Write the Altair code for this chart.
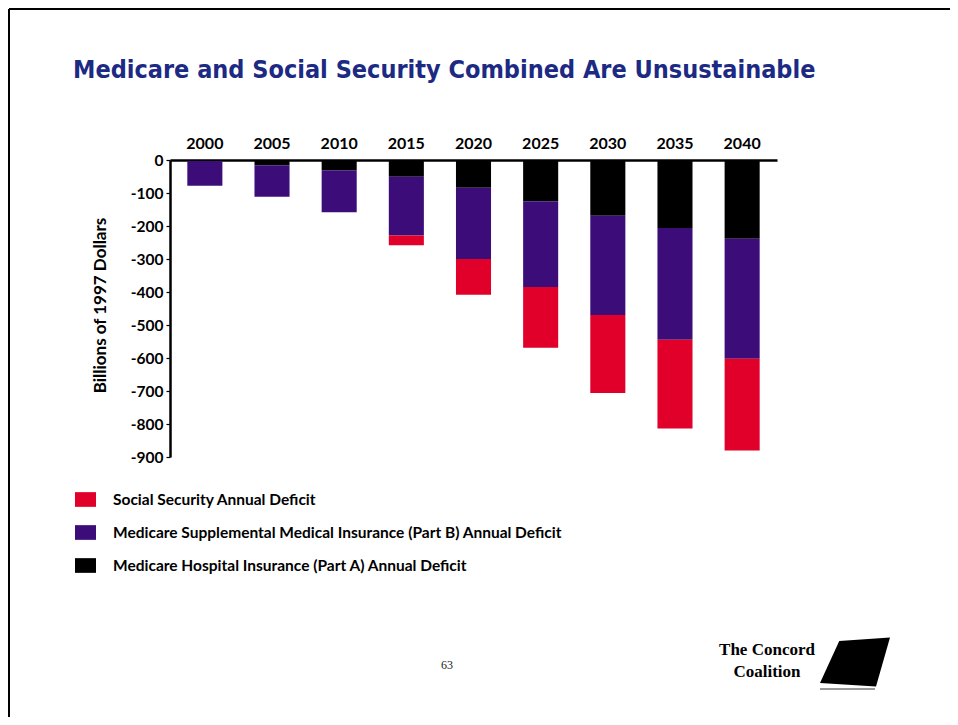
import altair as alt
import pandas as pd

# ---- data (billions of 1997 dollars) ----
years = ["2000", "2005", "2010", "2015", "2020", "2025", "2030", "2035", "2040"]
part_a = [-3, -16, -31, -51, -84, -125, -169, -206, -239]        # Medicare HI (Part A)
part_b = [-75, -95, -127, -178, -216, -260, -301, -339, -363]    # Medicare SMI (Part B)
social_security = [0, 0, 0, -29, -108, -184, -236, -269, -278]

series_names = [
    "Social Security Annual Deficit",
    "Medicare Supplemental Medical Insurance (Part B) Annual Deficit",
    "Medicare Hospital Insurance (Part A) Annual Deficit",
]
series_colors = ["#e1002a", "#3c0c78", "#000000"]
y_ticks = [0, -100, -200, -300, -400, -500, -600, -700, -800, -900]

rows = []
for i, yr in enumerate(years):
    rows.append({"year": yr, "series": series_names[2], "value": part_a[i], "ord": 0})
    rows.append({"year": yr, "series": series_names[1], "value": part_b[i], "ord": 1})
    rows.append({"year": yr, "series": series_names[0], "value": social_security[i], "ord": 2})
df = pd.DataFrame(rows)

FONT = "Lato"
one = pd.DataFrame({"a": [0]})

bars = alt.Chart(df).mark_bar().encode(
    x=alt.X("year:N", title=None,
            scale=alt.Scale(paddingInner=0.478, paddingOuter=0.258),
            axis=alt.Axis(orient="top", ticks=False, labelAngle=0, labelPadding=9,
                          domainColor="black", domainWidth=2.5, labelFontSize=16,
                          labelFont=FONT, labelFontWeight="bold", labelColor="black")),
    y=alt.Y("value:Q", stack="zero",
            scale=alt.Scale(domain=[-900, 0], nice=False, zero=False),
            axis=alt.Axis(values=y_ticks, grid=False, domainColor="black", domainWidth=2.5,
                          tickSize=4, tickColor="black", tickWidth=1.2, labelPadding=3,
                          labelExpr="datum.value < 0 ? '-' + format(-datum.value, 'd') : '0'",
                          labelFont=FONT, labelFontWeight="bold", labelFontSize=15.5,
                          labelColor="black",
                          title="Billions of 1997 Dollars", titleFont=FONT,
                          titleFontWeight="bold", titleFontSize=17, titleColor="black",
                          titleX=-70, titleY=145, titleAngle=-90, titleAlign="center",
                          titleBaseline="middle")),
    color=alt.Color("series:N",
                    scale=alt.Scale(domain=series_names, range=series_colors),
                    legend=alt.Legend(orient="none", legendX=-95, legendY=329, title=None,
                                      symbolType="M-1,-0.7L1,-0.7L1,0.7L-1,0.7Z",
                                      symbolSize=441, symbolStrokeWidth=0, symbolOpacity=1,
                                      labelFont=FONT, labelFontWeight="bold",
                                      labelFontSize=15.5, labelColor="black",
                                      labelOffset=17, rowPadding=14, padding=0,
                                      labelLimit=700)),
    order=alt.Order("ord:Q", sort="ascending"),
)

title = alt.Chart(one).mark_text(
    align="left", baseline="middle", font="DejaVu Sans Condensed", fontWeight="bold",
    fontSize=25, color="#1c2a84"
).encode(x=alt.value(-97), y=alt.value(-90), text=alt.value(
    "Medicare and Social Security Combined Are Unsustainable"))

page_no = alt.Chart(one).mark_text(
    align="center", baseline="middle", font="Liberation Serif", fontSize=12, color="#222222"
).encode(x=alt.value(277), y=alt.value(505), text=alt.value("63"))

logo1 = alt.Chart(one).mark_text(
    align="center", baseline="middle", font="Liberation Serif", fontWeight="bold",
    fontSize=17, color="black"
).encode(x=alt.value(597), y=alt.value(490), text=alt.value("The Concord"))

logo2 = alt.Chart(one).mark_text(
    align="center", baseline="middle", font="Liberation Serif", fontWeight="bold",
    fontSize=17, color="black"
).encode(x=alt.value(597), y=alt.value(512), text=alt.value("Coalition"))

logo_shape = alt.Chart(one).mark_point(
    shape="M-1,0.6L-0.45,-0.6L1,-0.7L0.6,0.7Z", filled=True, opacity=1, color="black",
    size=4900
).encode(x=alt.value(685), y=alt.value(502))

logo_stripe = alt.Chart(one).mark_rule(color="#777777", strokeWidth=1.5).encode(
    x=alt.value(650), x2=alt.value(705), y=alt.value(529))

frame_top = alt.Chart(one).mark_rule(color="black", strokeWidth=2).encode(
    x=alt.value(-161), x2=alt.value(780), y=alt.value(-151))
frame_left = alt.Chart(one).mark_rule(color="black", strokeWidth=2).encode(
    x=alt.value(-161), y=alt.value(-151), y2=alt.value(557))

chart = alt.layer(
    bars, title, page_no, logo1, logo2, logo_shape, logo_stripe, frame_top, frame_left
).properties(
    width=607, height=297,
    padding={"left": 162, "top": 152, "right": 173, "bottom": 260},
    autosize="none",
    background="white",
).configure_view(stroke=None)

chart.save("out.html", embed_options={"renderer": "svg", "actions": False})
